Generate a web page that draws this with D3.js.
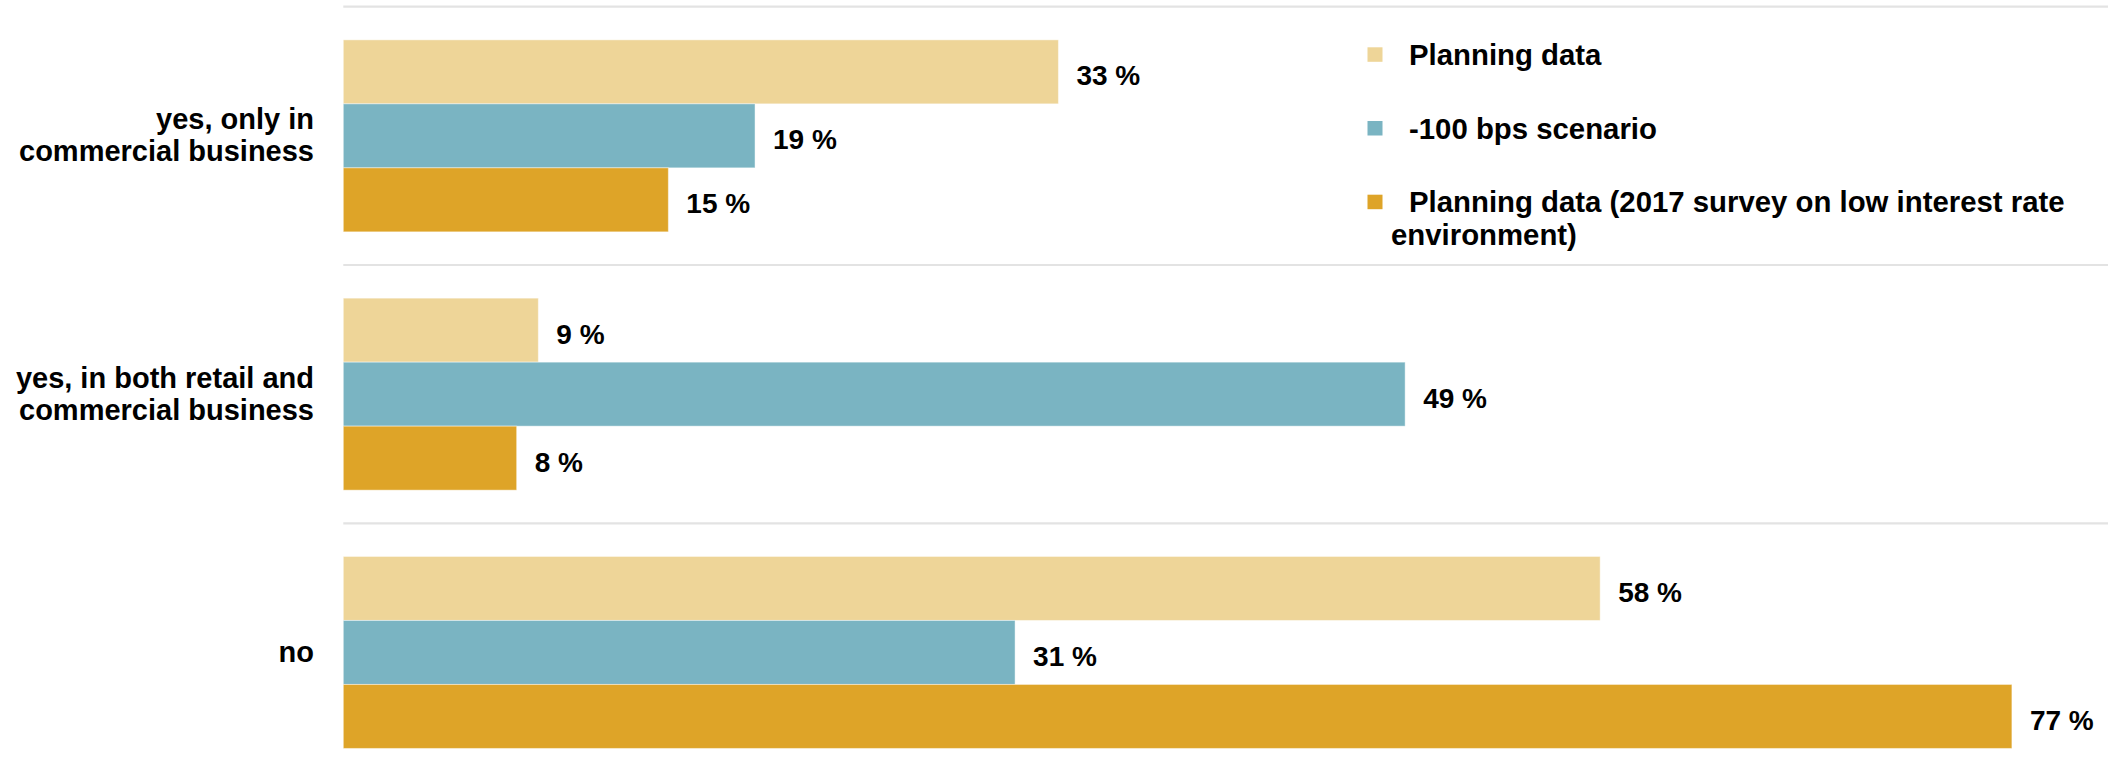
<!DOCTYPE html>
<html>
<head>
<meta charset="utf-8">
<script src="https://cdn.jsdelivr.net/npm/d3@7"></script>
<style>
  html, body { margin: 0; padding: 0; background: #ffffff; }
  svg { display: block; }
  text { font-family: "Liberation Sans", Arial, sans-serif; font-weight: bold; fill: #000; }
</style>
</head>
<body>
<svg id="chart" width="2108" height="774"></svg>
<script>
// Survey answers (categories) and shares per scenario, in percent
const categories = [
  ["yes, only in", "commercial business"],
  ["yes, in both retail and", "commercial business"],
  ["no"]
];
const categoryKeys = ["only commercial", "retail and commercial", "no"];
const seriesNames = [
  "Planning data",
  "-100 bps scenario",
  "Planning data (2017 survey on low interest rate environment)"
];
const planningData = [33, 9, 58];
const minus100bps = [19, 49, 31];
const planning2017 = [15, 8, 77];
const seriesValues = [planningData, minus100bps, planning2017];
const seriesColors = ["#EED598", "#7AB4C2", "#DEA428"];
const legendLines = [
  ["Planning data"],
  ["-100 bps scenario"],
  ["Planning data (2017 survey on low interest rate", "environment)"]
];

const svg = d3.select("#chart");

const plotLeft = 343.3;
const pxPerPercent = 21.67;
const x = d3.scaleLinear().domain([0, 80]).range([plotLeft, plotLeft + 80 * pxPerPercent]);

const bandStep = 258.3;
const y = d3.scaleBand()
  .domain(categoryKeys)
  .range([6.7, 6.7 + bandStep * categoryKeys.length])
  .paddingInner(0).paddingOuter(0);

const ySub = d3.scaleBand()
  .domain(d3.range(seriesNames.length))
  .range([0, y.bandwidth()])
  .paddingInner(0).paddingOuter(0.518);

// Separator lines between the answer groups
svg.append("g").selectAll("line")
  .data(categoryKeys)
  .join("line")
  .attr("x1", plotLeft).attr("x2", 2108)
  .attr("y1", d => y(d)).attr("y2", d => y(d))
  .attr("stroke", "#e3e3e3")
  .attr("stroke-width", 2.2);

// Bars, one group per answer
const groups = svg.append("g").selectAll("g")
  .data(categoryKeys)
  .join("g")
  .attr("transform", d => `translate(0,${y(d)})`);

groups.each(function(cat, ci) {
  const g = d3.select(this);
  const rows = seriesValues.map((vals, si) => ({ si, v: vals[ci] }));
  g.selectAll("rect")
    .data(rows)
    .join("rect")
    .attr("x", x(0))
    .attr("y", d => ySub(d.si))
    .attr("width", d => x(d.v) - x(0))
    .attr("height", ySub.bandwidth())
    .attr("fill", d => seriesColors[d.si])
    .attr("stroke", "rgba(255,255,255,0.45)")
    .attr("stroke-width", 1);

  g.selectAll("text.value")
    .data(rows)
    .join("text")
    .attr("class", "value")
    .attr("x", d => x(d.v) + 18)
    .attr("y", d => ySub(d.si) + ySub.bandwidth() / 2 + 13.5)
    .attr("font-size", 28)
    .text(d => `${d.v} %`);
});

// Category labels, right-aligned left of the bars
const lineHeight = 32;
svg.append("g").selectAll("text")
  .data(categoryKeys)
  .join("text")
  .attr("text-anchor", "end")
  .attr("font-size", 29)
  .each(function(d, i) {
    const lines = categories[i];
    const center = y(d) + y.bandwidth() / 2;
    const first = center + 9.5 - (lines.length - 1) * lineHeight / 2;
    d3.select(this).selectAll("tspan")
      .data(lines)
      .join("tspan")
      .attr("x", 314)
      .attr("y", (l, k) => first + k * lineHeight)
      .text(l => l);
  });

// Legend
const legend = svg.append("g");
const legendBase = 65;
const legendStep = 73.7;
legendLines.forEach((lines, i) => {
  const by = legendBase + i * legendStep;
  legend.append("rect")
    .attr("x", 1367.5).attr("y", by - 17.7)
    .attr("width", 15).attr("height", 14.5)
    .attr("fill", seriesColors[i]);
  lines.forEach((l, k) => {
    legend.append("text")
      .attr("x", k === 0 ? 1409 : 1391)
      .attr("y", by + k * 33)
      .attr("font-size", 29.35)
      .text(l);
  });
});
</script>
</body>
</html>
